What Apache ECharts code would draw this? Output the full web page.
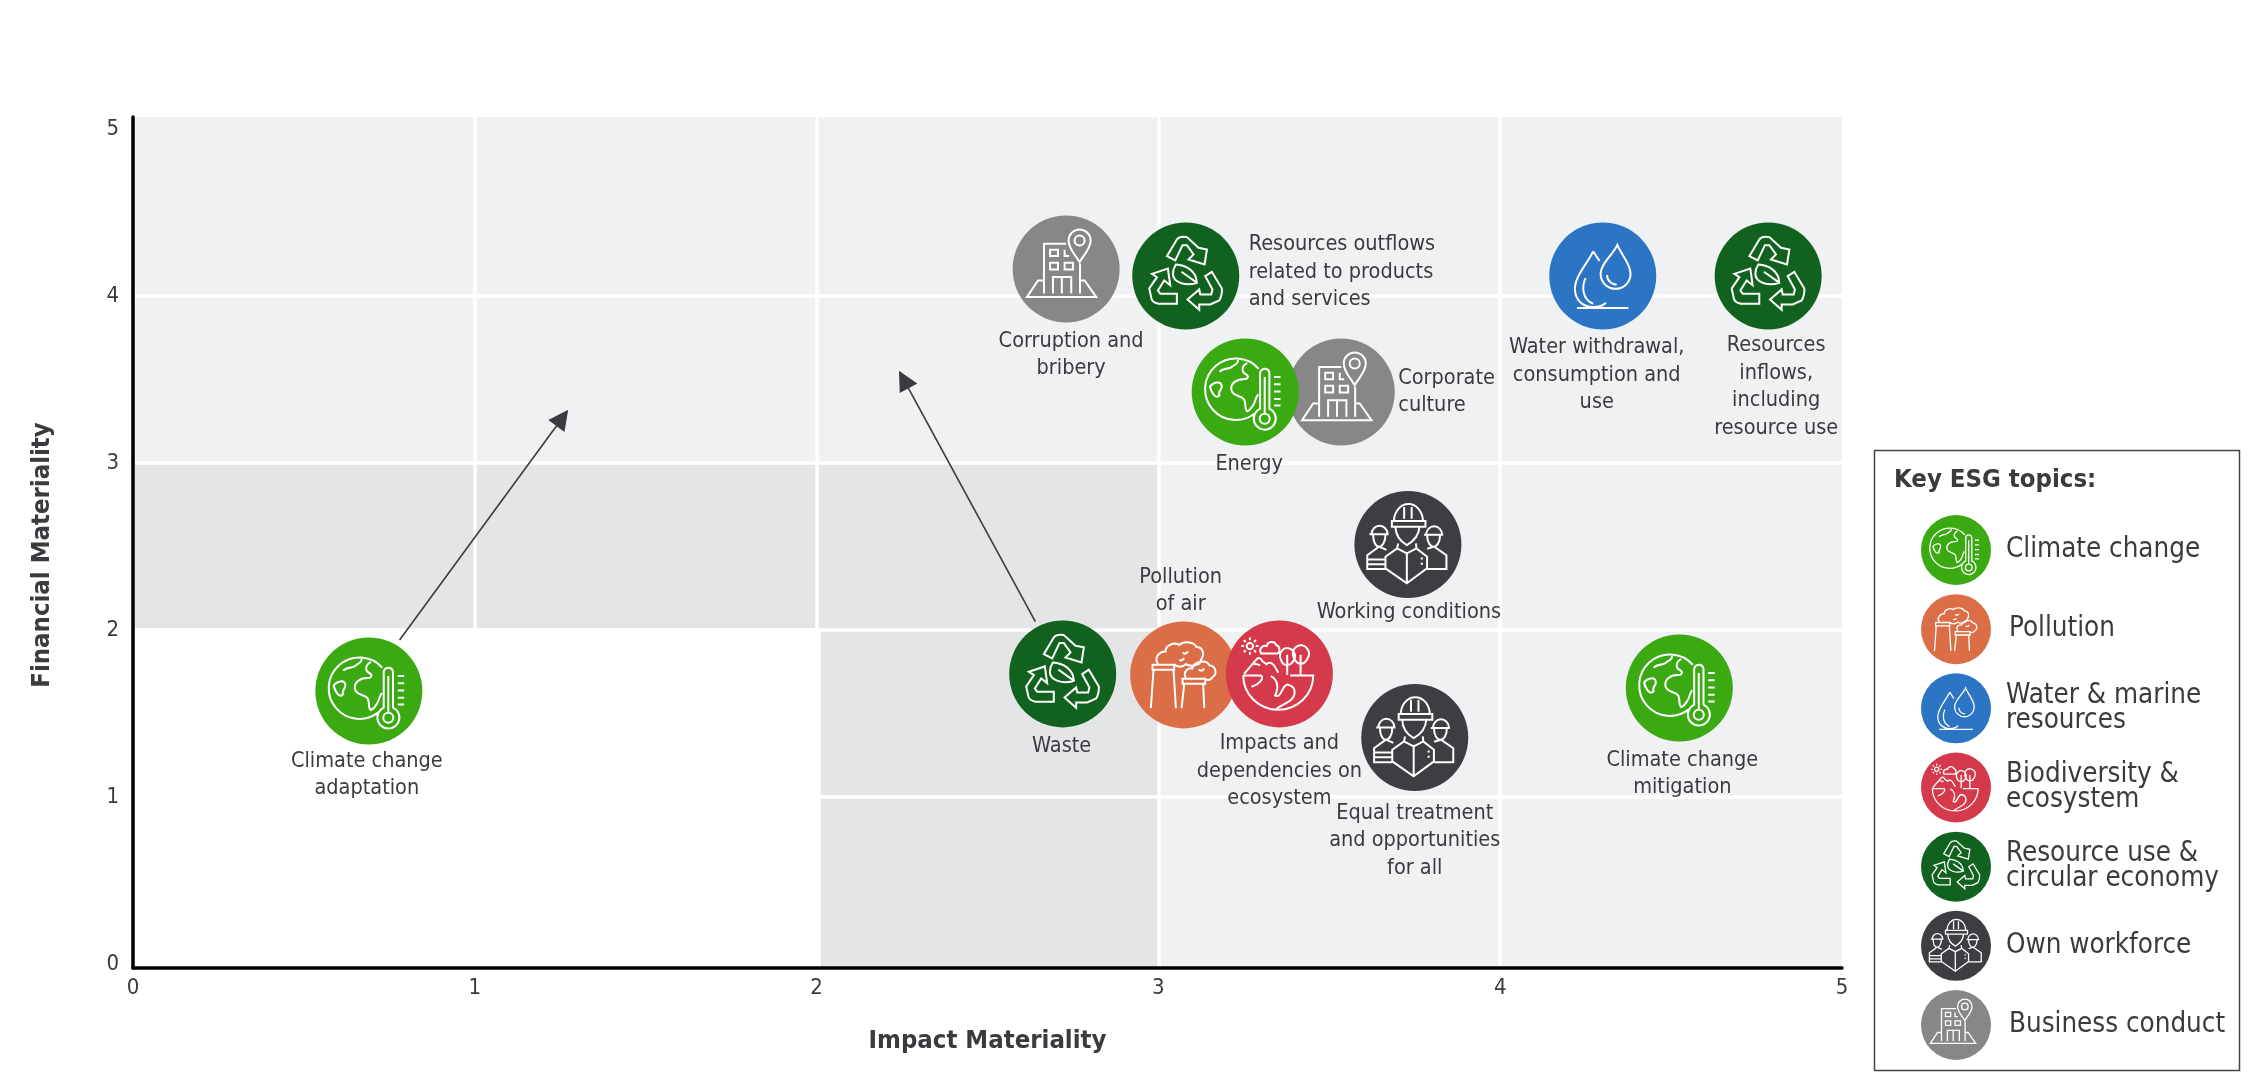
<!DOCTYPE html>
<html><head><meta charset="utf-8">
<style>html,body{margin:0;padding:0;background:#fff}#c{width:2250px;height:1082px}</style>
<script src="https://cdn.jsdelivr.net/npm/echarts@6/dist/echarts.min.js"></script>
</head><body><div id="c"></div>
<script>
const FONT = '"DejaVu Sans Condensed","DejaVu Sans",sans-serif';
const TXT = '#3a3b3e';

// ---------- data ----------
const topicNames = ['Climate change','Pollution','Water & marine\nresources','Biodiversity &\necosystem','Resource use &\ncircular economy','Own workforce','Business conduct'];
const topicKeys  = ['climate','pollution','water','bio','resource','workforce','business'];
const topicColors= ['#3aa912','#db6e46','#2b75c4','#d43a4b','#12621f','#3d3e42','#878787'];
const drawOrder  = ['business','pollution','bio','climate','water','resource','workforce'];

const pointNames = ['Climate change\nadaptation','Waste','Corruption and\nbribery','Resources outflows\nrelated to products\nand services','Water withdrawal,\nconsumption and\nuse','Resources\ninflows,\nincluding\nresource use','Energy','Corporate\nculture','Working conditions','Pollution\nof air','Impacts and\ndependencies on\necosystem','Equal treatment\nand opportunities\nfor all','Climate change\nmitigation'];
const pointTopic = ['climate','resource','business','resource','water','resource','climate','business','workforce','pollution','bio','workforce','climate'];
const impactValues    = [0.69,2.72,2.73,3.08,4.30,4.784,3.254,3.535,3.73,3.074,3.354,3.75,4.524];
const financialValues = [1.635,1.737,4.162,4.12,4.12,4.12,3.425,3.425,2.512,1.731,1.737,1.356,1.653];
const labelOffsets = [[-2,84],[-1,72],[5,86],[63,-4],[-6,99],[8,111],[4,72],[57,0],[1,68],[-3,-84],[0,97],[0,103],[3,86]];
const labelAligns  = ['center','center','center','left','center','center','center','left','center','center','center','center','center'];

const xTicks = [0,1,2,3,4,5];
const yTicks = [0,1,2,3,4,5];
const xGridLines = [1,2,3,4];
const yGridLines = [1,2,3,4];
const yTop = 5.072;
const yBottom = -0.024;
// zones: x0,y0,x1,y1
const zoneLight = [[0,3,5,yTop],[3,2,5,3],[3,yBottom,5,2]];
const zoneDark  = [[0,2,3,3],[2.012,yBottom,3,2]];
const arrowPaths = [[[0.78,1.94],[1.256,3.27]],[[2.64,2.05],[2.255,3.50]]];

// ---------- icons (drawn in a 100 x 100 box that matches the disc) ----------
const BOX = 'M0 0L0 0M100 100L100 100';
const icons = {
 climate: 'M62.6 28.3A28.7 28.7 0 1 0 58.9 70 M26 31C30 27 36 29 38 26C40 24 44 24 43 20 M52 23C47 25 46 31 50 33C54 35 53 38 48 38C42 38 36 42 37 48C38 54 46 53 49 57C51 61 49 66 52 68C56 66 59 60 60 56L62 52 M17 45C20 41 27 39 28 44C29 48 24 49 26 53C23 57 19 52 17 45Z M63.9 63.5L63.9 32A4.4 4.4 0 0 1 72.6 32L72.6 65.5A10.3 10.3 0 1 1 63.9 65.5Z M68.2 36L68.2 70 M72.9 75A4.7 4.7 0 1 1 63.5 75A4.7 4.7 0 1 1 72.9 75Z M77 36L83 36M77 42.7L83 42.7M77 49.5L83 49.5M77 56.4L83 56.4M77 62.6L83 62.6',
 business: 'M63 45L63 73M29.3 73L29.3 26.5L50 26.5 M62.6 43.6C58 36 52.3 31 52.3 23.4A10.3 10.3 0 0 1 72.9 23.4C72.9 31 67 36 62.6 43.6Z M67.3 23.4A4.7 4.7 0 1 1 57.9 23.4A4.7 4.7 0 1 1 67.3 23.4Z M35 32L42.4 32L42.4 38L35 38Z M48.6 32L48.6 38L52.8 38 M35 44.2L42.4 44.2L42.4 50.5L35 50.5Z M48.6 44.2L56.4 44.2L56.4 50.5L48.6 50.5Z M37.7 73L37.7 57.6L54.8 57.6L54.8 73 M46 57.6L46 73 M29 60.7L23.7 60.7L13.4 76.3L78.2 76.3L67.3 60.7L63 60.7',
 resource: 'M32.4 31.5L41.7 15.9C44 13 48 13 51.1 13.7L62 23.7L69.8 25.2L67.6 39.3L52.6 34.6L57.3 29.9L51.1 21.2L47 21.2L40.2 35.5Z M18.4 48L33.3 43L35.5 58.6L29.9 54.2L24 63.6L26.2 66.7L41.7 66.7L41.7 76L24.6 76C20 75 18 73 17.8 70.4L15.9 61.7L23.1 51.1Z M68.2 50.2L74.4 46.1L83.8 61.7C84 66 83 70 81.3 72.9L72.9 76.6L62.6 76.6L62.6 81.6L51.7 72L62.6 62.6L63.6 67.3L73.8 67.3L75 62.6Z M40.8 39.3C50 40 60 45 60.4 56.4C50 60 38 56 38 48C38 45 39 42 40.8 39.3Z M46 46L60 56',
 water: 'M63.7 21C60 30 48 38 48 48A14 14 0 0 0 76 48C76 38 67 30 63.7 21Z M54 49A9 9 0 0 0 63 58 M41 27C36 38 24 50 24 62C24 72 31 79 41 79C46 79 50 78 53 75 M41 27L47 36 M34 52C30 60 31 72 41 76 M26 80L74 80',
 pollution: 'M20.9 40.5L41.1 40.5L41.1 45.2L20.9 45.2Z M21.8 45.2L19.3 81 M40.5 45.2L42.7 81 M48.9 53.6L70.1 53.6L70.1 58.3L48.9 58.3Z M50.5 58.3L48 81 M68.2 58.3L69.2 81 M26 40C22 34 27 28 33 28C33 22 41 19 46 22C50 18 60 19 62 24C68 24 70 31 66 36C66 41 57 43 52 40C49 43 44 43 41 40 M52 53C49 47 54 43 58 44C60 37 71 35 74 41C81 42 81 50 77 52C75 56 71 55 68 53 M49 29C51 31 53 30 54 28 M46 36C48 37 50 36 50 34 M64 45C66 47 68 46 69 44',
 bio: 'M16.2 51.5A32.7 32 0 0 0 81.6 51.5L60 51.5 M16.2 51.5L33 51.5 M33 51.5C36 54 31 60 24 62 M42 52C48 55 50 62 46 70C52 74 52 60 58 60C66 62 66 70 60 75C54 79 50 80 47 83 M17 50L29 36C31 34 33 36 34 38L38 41C40 38 43 40 45 42L49 49 M26 41C28 40 30 41 32 42 M57.3 32L57.3 51 M52 38A7 7.5 0 1 1 63 38C60 43 54 43 52 38Z M69.8 32L69.8 51 M64 36A7.5 8 0 1 1 76 36C73 42 67 42 64 36Z M33 31C30 26 35 23 38 24C39 19 46 19 47 23C51 24 51 31 47 31Z M25.4 24A3 3 0 1 1 19.4 24A3 3 0 1 1 25.4 24Z M22.4 16L22.4 18.5M22.4 29.5L22.4 32M14.4 24L16.9 24M27.9 24L30.4 24M16.7 18.3L18.5 20.1M26.3 27.9L28.1 29.7M16.7 29.7L18.5 27.9M26.3 20.1L28.1 18.3',
 workforce: 'M35 28L66.4 28L66.4 33.3L35 33.3Z M37 28A12 14 0 0 1 64 28 M46.5 15L46.5 26M53.5 15L53.5 26 M38.3 33.3C38.5 40 41 46 49 50.5C57 46 60.5 40 60.7 33.3 M29 61.4L39.9 53.6L49 58.3L58 53.6L67.9 61.4L67.9 72.3L49 86.3L29 72.3Z M49 58.3L49 86.3 M41 49L39.9 53.6M57.5 49L58 53.6 M62 63L64 63M62 68L64 68 M14 40.5L32 40.5 M16 40.5A7.5 8 0 0 1 31 40.5 M17.5 41C17.5 48 20 52 23 52C26 52 29 48 29 41 M30 55L23 52L12 60L12 73L29 73 M12 64L29 64M12 68.5L29 68.5 M65 41L83 41 M67 41A7.5 8 0 0 1 82 41 M68 41.5C68 48 71 52 74 52C77 52 80 48 80 41.5 M68 54L74.5 52L86 60L86 73L68 73'
};

// ---------- build ----------
const colorOf = k => topicColors[topicKeys.indexOf(k)];
const series = [];

const rect = (colour) => ({
  type:'custom', coordinateSystem:'cartesian2d', xAxisIndex:0, yAxisIndex:0, silent:true, z:1, clip:false,
  renderItem:(p,api)=>{
    const a=api.coord([api.value(0),api.value(1)]), b=api.coord([api.value(2),api.value(3)]);
    return {type:'rect',shape:{x:a[0],y:b[1],width:b[0]-a[0],height:a[1]-b[1]},style:{fill:colour}};
  },
  encode:{x:[0,2],y:[1,3]}
});
series.push(Object.assign(rect('#f0f1f3'),{data:zoneLight}));
series.push(Object.assign(rect('#e4e5e7'),{data:zoneDark}));

const gridLineData = xGridLines.map(x=>({coords:[[x,yBottom],[x,yTop]]})).concat(yGridLines.map(y=>({coords:[[0,y],[5,y]]})));
series.push({type:'lines',coordinateSystem:'cartesian2d',xAxisIndex:0,yAxisIndex:0,silent:true,z:2,
  lineStyle:{color:'#ffffff',width:3.5,opacity:1},symbol:'none',data:gridLineData});

series.push({type:'lines',coordinateSystem:'cartesian2d',xAxisIndex:0,yAxisIndex:0,silent:true,z:3,
  symbol:['none','triangle'],symbolSize:20,
  lineStyle:{color:'#3a3b3e',width:1.6,opacity:1},
  data:arrowPaths.map(c=>({coords:c}))});

drawOrder.forEach((key,i)=>{
  const idx = pointTopic.map((t,j)=>t===key?j:-1).filter(j=>j>=0);
  series.push({type:'scatter',xAxisIndex:0,yAxisIndex:0,z:10+i*2,symbol:'circle',symbolSize:107,silent:true,clip:false,
    itemStyle:{color:colorOf(key),opacity:1},
    data:idx.map(j=>({value:[impactValues[j],financialValues[j]],
      label:{show:true,position:'inside',formatter:pointNames[j],offset:labelOffsets[j],align:labelAligns[j],verticalAlign:'middle',
        color:TXT,fontFamily:FONT,fontSize:21.5,lineHeight:27.5}}))});
  series.push({type:'scatter',xAxisIndex:0,yAxisIndex:0,z:11+i*2,symbol:'path://'+BOX+icons[key],symbolSize:107,symbolKeepAspect:true,silent:true,clip:false,
    itemStyle:{color:'transparent',borderColor:'#ffffff',borderWidth:2,opacity:1},
    data:idx.map(j=>[impactValues[j],financialValues[j]])});
});

// legend drawn in its own hidden cartesian grid
const legendTextLeft = [50,53,50,50,50,50,53];
topicKeys.forEach((key,i)=>{
  series.push({type:'scatter',xAxisIndex:1,yAxisIndex:1,z:10,symbol:'circle',symbolSize:70,silent:true,clip:false,
    itemStyle:{color:topicColors[i],opacity:1},
    data:[{value:[0,i],label:{show:true,position:'inside',formatter:topicNames[i],offset:[legendTextLeft[i],0],align:'left',verticalAlign:'middle',
      color:TXT,fontFamily:FONT,fontSize:27.5,lineHeight:25}}]});
  series.push({type:'scatter',xAxisIndex:1,yAxisIndex:1,z:11,symbol:'path://'+BOX+icons[key],symbolSize:70,symbolKeepAspect:true,silent:true,clip:false,
    itemStyle:{color:'transparent',borderColor:'#ffffff',borderWidth:1.3,opacity:1},
    data:[[0,i]]});
});

const option = {
  animation:false, backgroundColor:'#ffffff',
  textStyle:{fontFamily:FONT},
  title:{text:'Key ESG topics:',left:1889,top:462,textStyle:{fontFamily:FONT,fontSize:25.5,fontWeight:'bold',color:TXT}},
  graphic:[{type:'rect',silent:true,z:0,shape:{x:1874.5,y:450.5,width:365,height:620},style:{fill:'#fff',stroke:'#444',lineWidth:1.5}}],
  grid:[{left:133,width:1709,top:117,height:851,containLabel:false},
        {left:1956,width:100,top:550,height:475}],
  xAxis:[{type:'value',gridIndex:0,min:0,max:5,interval:1,z:5,name:'Impact Materiality',nameLocation:'middle',nameGap:60,
      nameTextStyle:{fontFamily:FONT,fontSize:25.5,fontWeight:'bold',color:TXT},
      axisLine:{show:true,onZero:false,lineStyle:{color:'#000',width:3.5}},axisTick:{show:false},splitLine:{show:false},
      axisLabel:{color:TXT,fontSize:22,fontFamily:FONT,margin:9,customValues:xTicks}},
    {type:'value',gridIndex:1,min:0,max:1,show:false,splitLine:{show:false}}],
  yAxis:[{type:'value',gridIndex:0,min:yBottom,max:yTop,z:5,name:'Financial Materiality',nameLocation:'middle',nameGap:78,
      nameTextStyle:{fontFamily:FONT,fontSize:25.5,fontWeight:'bold',color:TXT,padding:[0,25,0,0]},
      axisLine:{show:true,onZero:false,lineStyle:{color:'#000',width:3.5}},axisTick:{show:false},splitLine:{show:false},
      axisLabel:{color:TXT,fontSize:22,fontFamily:FONT,margin:14,customValues:yTicks}},
    {type:'value',gridIndex:1,min:0,max:6,inverse:true,show:false,splitLine:{show:false}}],
  series
};
const chart = echarts.init(document.getElementById('c'),null,{renderer:'canvas',width:2250,height:1082});
chart.setOption(option);
</script></body></html>
